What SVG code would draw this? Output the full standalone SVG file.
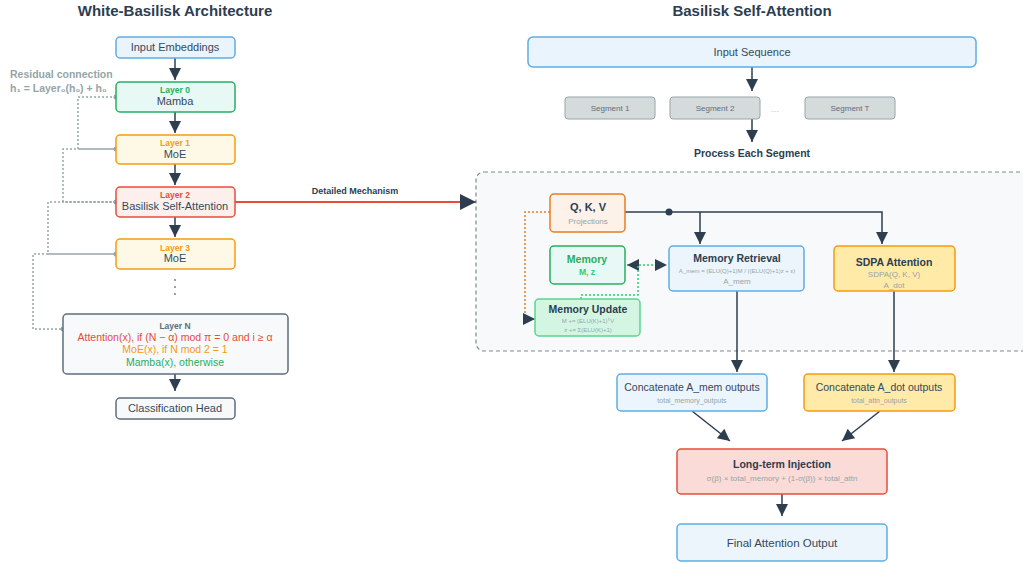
<svg xmlns="http://www.w3.org/2000/svg" width="1023" height="563" viewBox="0 0 1023 563">
<style>
text{font-family:"Liberation Sans",Arial,sans-serif;text-anchor:middle;}
.t{font-size:15px;font-weight:bold;fill:#2c3e50;}
.n{font-size:11px;fill:#34495e;}
.lb{font-size:8.5px;font-weight:bold;}
.hb{font-size:10.5px;font-weight:bold;fill:#2c3e50;}
.s{font-size:8px;fill:#95a5a6;}
.xs{font-size:6px;fill:#95a5a6;}
.a{stroke:#2c3e50;stroke-width:1.5;fill:none;}
.res{stroke:#95a5a6;stroke-width:1.5;fill:none;stroke-dasharray:2,2;}
</style>
<defs>
<marker id="ah" viewBox="0 0 10 10" refX="10" refY="5" markerWidth="15" markerHeight="12" markerUnits="userSpaceOnUse" orient="auto"><path d="M0,0 L10,5 L0,10 z" fill="#2c3e50"/></marker>
<marker id="ahs" viewBox="0 0 10 10" refX="10" refY="5" markerWidth="15" markerHeight="12" markerUnits="userSpaceOnUse" orient="auto"><path d="M0,0 L10,5 L0,10 z" fill="#2c3e50"/></marker>
<marker id="ahb" viewBox="0 0 10 10" refX="10" refY="5" markerWidth="24" markerHeight="16" markerUnits="userSpaceOnUse" orient="auto"><path d="M0,0 L10,5 L0,10 z" fill="#2c3e50"/></marker>
<marker id="ahr" viewBox="0 0 10 10" refX="0" refY="5" markerWidth="15" markerHeight="12" markerUnits="userSpaceOnUse" orient="auto"><path d="M10,0 L0,5 L10,10 z" fill="#2c3e50"/></marker>
</defs>
<rect width="1023" height="563" fill="#ffffff"/>
<text x="175" y="16" class="t">White-Basilisk Architecture</text>
<text x="752" y="16" class="t">Basilisk Self-Attention</text>
<g id="container"><rect x="476" y="172" width="560" height="179" rx="8" fill="#f8f9fa" stroke="#7f8c8d" stroke-width="1.2" stroke-dasharray="4,3"/></g>
<g id="connectors">
<line x1="175" y1="58" x2="175" y2="80" class="a" marker-end="url(#ah)"/>
<line x1="175" y1="112" x2="175" y2="133" class="a" marker-end="url(#ah)"/>
<line x1="175" y1="164" x2="175" y2="185" class="a" marker-end="url(#ah)"/>
<line x1="175" y1="217" x2="175" y2="237" class="a" marker-end="url(#ah)"/>
<line x1="175" y1="374" x2="175" y2="391" class="a" marker-end="url(#ah)"/>
<line x1="175" y1="279" x2="175" y2="297" stroke="#95a5a6" stroke-width="2" stroke-dasharray="2,5"/>
<polyline points="116,97 78,97 78,149 116,149" class="res"/>
<polyline points="116,149 63,149 63,202 116,202" class="res"/>
<polyline points="116,202 48,202 48,254 116,254" class="res"/>
<polyline points="116,254 33,254 33,329 63,329" class="res"/>
<circle cx="116" cy="97" r="2.5" fill="#95a5a6"/>
<circle cx="116" cy="149" r="2.5" fill="#95a5a6"/>
<circle cx="116" cy="202" r="2.5" fill="#95a5a6"/>
<circle cx="116" cy="254" r="2.5" fill="#95a5a6"/>
<circle cx="63" cy="329" r="2.5" fill="#95a5a6"/>
<line x1="235" y1="202" x2="476" y2="202" stroke="#e74c3c" stroke-width="2" marker-end="url(#ahb)"/>
<text x="355" y="194" style="font-size:9px;font-weight:bold;fill:#2c3e50">Detailed Mechanism</text>
<line x1="752" y1="67" x2="752" y2="91" class="a" marker-end="url(#ah)"/>
<line x1="752" y1="119" x2="752" y2="142" class="a" marker-end="url(#ah)"/>
<polyline points="625,212 882,212 882,244" class="a" marker-end="url(#ahs)"/>
<line x1="700" y1="212" x2="700" y2="244" class="a" marker-end="url(#ahs)"/>
<circle cx="669" cy="212" r="3.5" fill="#2c3e50"/>
<line x1="627" y1="265" x2="667" y2="265" stroke="#2ecc71" stroke-width="1.5" stroke-dasharray="2,2" marker-start="url(#ahr)" marker-end="url(#ahs)"/>
<polyline points="638,266 638,295 581,295 581,299" stroke="#2ecc71" stroke-width="1.5" stroke-dasharray="2,2" fill="none"/>
<polyline points="550,212 525,212 525,319 535,319" stroke="#e67e22" stroke-width="1.5" stroke-dasharray="2,2" fill="none" marker-end="url(#ahs)"/>
<line x1="737" y1="291" x2="737" y2="372" class="a" marker-end="url(#ahs)"/>
<line x1="894" y1="291" x2="894" y2="372" class="a" marker-end="url(#ahs)"/>
<line x1="692" y1="411" x2="730" y2="441" class="a" marker-end="url(#ahs)"/>
<line x1="880" y1="411" x2="842" y2="441" class="a" marker-end="url(#ahs)"/>
<line x1="782" y1="494" x2="782" y2="516" class="a" marker-end="url(#ahs)"/>
</g>
<text x="10" y="78" style="font-size:10.5px;font-weight:bold;fill:#95a5a6;text-anchor:start">Residual connection</text>
<text x="10" y="92" style="font-size:10.5px;font-weight:bold;fill:#95a5a6;text-anchor:start">h₁ = Layer₀(h₀) + h₀</text>
<g id="input-embeddings"><rect x="116" y="37" width="119" height="21" rx="4" fill="#eaf4fc" stroke="#5dade2" stroke-width="1.5"/><text x="175" y="51" class="n">Input Embeddings</text></g>
<g id="layer0"><rect x="116" y="82" width="119" height="30" rx="4" fill="#e8f8f5" stroke="#27ae60" stroke-width="1.5"/><text x="175" y="93" class="lb" fill="#27ae60">Layer 0</text><text x="175" y="105" class="n">Mamba</text></g>
<g id="layer1"><rect x="116" y="135" width="119" height="29" rx="4" fill="#fef9e7" stroke="#f39c12" stroke-width="1.5"/><text x="175" y="146" class="lb" fill="#f39c12">Layer 1</text><text x="175" y="158" class="n">MoE</text></g>
<g id="layer2"><rect x="116" y="187" width="119" height="30" rx="4" fill="#fdf0ec" stroke="#e74c3c" stroke-width="1.5"/><text x="175" y="198" class="lb" fill="#e74c3c">Layer 2</text><text x="175" y="210" class="n">Basilisk Self-Attention</text></g>
<g id="layer3"><rect x="116" y="239" width="119" height="30" rx="4" fill="#fef9e7" stroke="#f39c12" stroke-width="1.5"/><text x="175" y="251" class="lb" fill="#f39c12">Layer 3</text><text x="175" y="262" class="n">MoE</text></g>
<g id="layerN"><rect x="63" y="314" width="225" height="60" rx="4" fill="#f8f9fa" stroke="#5d6d7e" stroke-width="1.5"/><text x="175" y="329" class="lb" fill="#5d6d7e">Layer N</text><text x="175" y="341" style="font-size:10.5px;fill:#e74c3c">Attention(x), if (N − α) mod π = 0 and i ≥ α</text><text x="175" y="353" style="font-size:10.5px;fill:#f39c12">MoE(x), if N mod 2 = 1</text><text x="175" y="366" style="font-size:10.5px;fill:#27ae60">Mamba(x), otherwise</text></g>
<g id="classification-head"><rect x="116" y="398" width="119" height="21" rx="4" fill="#f8f9fa" stroke="#5d6d7e" stroke-width="1.5"/><text x="175" y="412" class="n">Classification Head</text></g>
<g id="input-sequence"><rect x="528" y="37" width="448" height="30" rx="5" fill="#eaf4fc" stroke="#5dade2" stroke-width="1.5"/><text x="752" y="56" class="n">Input Sequence</text></g>
<g id="segment1"><rect x="565" y="97" width="90" height="22" rx="3" fill="#d5dbdb" stroke="#95a5a6"/><text x="610" y="111" style="font-size:8px;fill:#5d6d7e">Segment 1</text></g>
<g id="segment2"><rect x="670" y="97" width="90" height="22" rx="3" fill="#d5dbdb" stroke="#95a5a6"/><text x="715" y="111" style="font-size:8px;fill:#5d6d7e">Segment 2</text></g>
<text x="775" y="112" style="font-size:8px;fill:#95a5a6">…</text>
<g id="segmentT"><rect x="805" y="97" width="90" height="22" rx="3" fill="#d5dbdb" stroke="#95a5a6"/><text x="850" y="111" style="font-size:8px;fill:#5d6d7e">Segment T</text></g>
<text x="752" y="157" style="font-size:10.5px;font-weight:bold;fill:#2c3e50">Process Each Segment</text>
<g id="qkv"><rect x="550" y="194" width="75" height="38" rx="4" fill="#fdf2e9" stroke="#e67e22" stroke-width="1.5"/><text x="588" y="211" style="font-size:11px;font-weight:bold;fill:#2c3e50">Q, K, V</text><text x="588" y="224" class="s">Projections</text></g>
<g id="memory"><rect x="550" y="246" width="75" height="38" rx="4" fill="#e8f8f5" stroke="#27ae60" stroke-width="1.5"/><text x="587" y="263" style="font-size:10.5px;font-weight:bold;fill:#27ae60">Memory</text><text x="587" y="275" style="font-size:8.5px;font-weight:bold;fill:#2ecc71">M, z</text></g>
<g id="memory-retrieval"><rect x="669" y="246" width="135" height="45" rx="4" fill="#ebf5fb" stroke="#5dade2" stroke-width="1.5"/><text x="737" y="262" class="hb">Memory Retrieval</text><text x="737" y="273" class="xs">A_mem = (ELU(Q)+1)M / ((ELU(Q)+1)z + ε)</text><text x="737" y="284" class="s">A_mem</text></g>
<g id="sdpa"><rect x="834" y="246" width="121" height="45" rx="4" fill="#ffeaa7" stroke="#f39c12" stroke-width="1.5"/><text x="894" y="266" class="hb">SDPA Attention</text><text x="894" y="277" class="s">SDPA(Q, K, V)</text><text x="894" y="288" class="s">A_dot</text></g>
<g id="memory-update"><rect x="535" y="299" width="105" height="37" rx="4" fill="#d5f5e3" stroke="#58d68d" stroke-width="1.5"/><text x="588" y="313" class="hb">Memory Update</text><text x="588" y="323" class="xs">M += (ELU(K)+1)ᵀV</text><text x="588" y="332" class="xs">z += Σ(ELU(K)+1)</text></g>
<g id="concat-mem"><rect x="617" y="374" width="150" height="37" rx="4" fill="#ebf5fb" stroke="#5dade2" stroke-width="1.5"/><text x="692" y="391" style="font-size:10.5px;fill:#34495e">Concatenate A_mem outputs</text><text x="692" y="403" style="font-size:7px;fill:#95a5a6">total_memory_outputs</text></g>
<g id="concat-dot"><rect x="804" y="374" width="151" height="37" rx="4" fill="#ffeaa7" stroke="#f39c12" stroke-width="1.5"/><text x="879" y="391" style="font-size:10.5px;fill:#34495e">Concatenate A_dot outputs</text><text x="879" y="403" style="font-size:7px;fill:#95a5a6">total_attn_outputs</text></g>
<g id="long-term-injection"><rect x="677" y="449" width="210" height="45" rx="4" fill="#fadbd8" stroke="#e74c3c" stroke-width="1.5"/><text x="782" y="468" class="hb">Long-term Injection</text><text x="782" y="481" class="s">σ(β) × total_memory + (1-σ(β)) × total_attn</text></g>
<g id="final-output"><rect x="677" y="524" width="210" height="37" rx="4" fill="#ebf5fb" stroke="#5dade2" stroke-width="1.5"/><text x="782" y="547" style="font-size:11.5px;fill:#34495e">Final Attention Output</text></g>
</svg>
